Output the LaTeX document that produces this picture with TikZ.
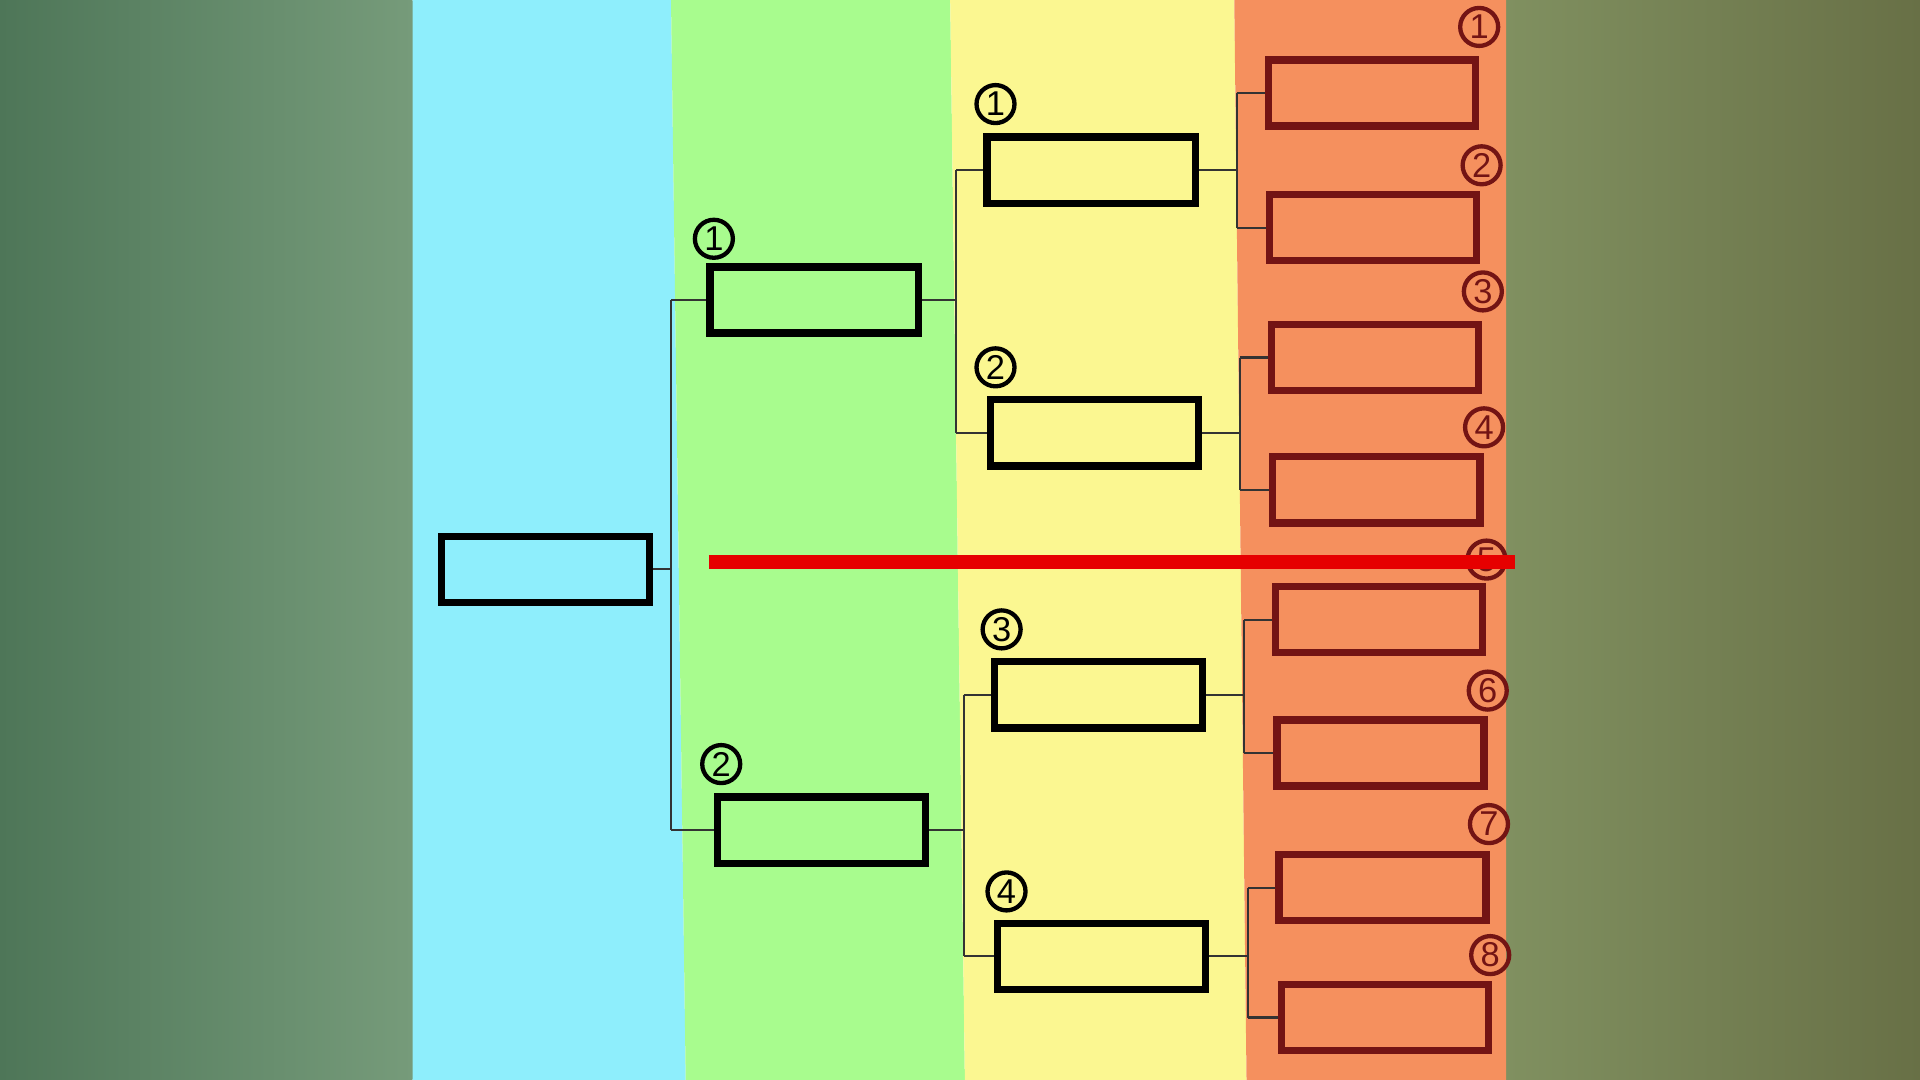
\documentclass[tikz,border=0pt]{standalone}
\usepackage{fontspec}
\setmainfont{Liberation Sans}
\definecolor{bgl1}{RGB}{78,118,88}
\definecolor{bgl2}{RGB}{118,155,122}
\definecolor{bgr1}{RGB}{128,144,96}
\definecolor{bgr2}{RGB}{104,112,70}
\definecolor{cblue}{RGB}{142,238,252}
\definecolor{cgreen}{RGB}{168,252,142}
\definecolor{cyellow}{RGB}{251,247,145}
\definecolor{corange}{RGB}{245,144,94}
\definecolor{dred}{RGB}{115,20,20}
\definecolor{lred}{RGB}{230,0,0}
\begin{document}
\begin{tikzpicture}[x=0.01cm,y=-0.01cm,
  box/.style={draw=black,line width=1.7pt},
  obox/.style={draw=dred,line width=1.7pt},
  con/.style={draw=black!80,line width=0.5pt},
  num/.style={circle,draw=black,line width=1pt,inner sep=0.4pt,minimum size=0.31cm,font=\footnotesize},
  onum/.style={num,draw=dred,text=dred}]
\useasboundingbox (0,0) rectangle (1568,882);
\shade[left color=bgl1,right color=bgl2] (0,0) rectangle (337,882);
\shade[left color=bgr1,right color=bgr2] (1230,0) rectangle (1568,882);
\fill[cblue] (337,0) -- (548,0) -- (560,882) -- (337,882) -- cycle;
\fill[cgreen] (548,0) -- (776,0) -- (788,882) -- (560,882) -- cycle;
\fill[cyellow] (776,0) -- (1008,0) -- (1018,882) -- (788,882) -- cycle;
\fill[corange] (1008,0) -- (1230,0) -- (1230,882) -- (1018,882) -- cycle;
% boxes
\node[box,minimum width=1.7cm,minimum height=0.54cm,inner sep=0] (a) at (445.5,465) {};
\foreach \n/\x/\y in {b1/665/245,b2/671/678}
  \node[box,minimum width=1.7cm,minimum height=0.54cm,inner sep=0] (\n) at (\x,\y) {};
\foreach \n/\x/\y in {c1/891/139,c2/894/353.5,c3/897/567.5,c4/899.5/781}
  \node[box,minimum width=1.7cm,minimum height=0.54cm,inner sep=0] (\n) at (\x,\y) {};
\foreach \n/\x/\y in {d1/1120.5/76,d2/1121.5/186,d3/1123/292,d4/1124/400,d5/1126/506,d6/1127.5/615,d7/1129/725,d8/1131/831}
  \node[obox,minimum width=1.69cm,minimum height=0.54cm,inner sep=0] (\n) at (\x,\y) {};
% connectors
\coordinate (ja) at (548,465);
\draw[con] (a.east) -- (ja) (ja|-b1.west) -- (ja|-b2.west);
\draw[con] (ja|-b1.west) -- (b1.west) (ja|-b2.west) -- (b2.west);
\foreach \p/\q/\r/\xx in {b1/c1/c2/781,b2/c3/c4/787,c1/d1/d2/1010,c2/d3/d4/1013,c3/d5/d6/1016,c4/d7/d8/1019}{
  \draw[con] (\p.east) -- (\xx,0 |- \p.east);
  \draw[con] (\xx,0 |- \q.west) -- (\xx,0 |- \r.west);
  \draw[con] (\xx,0 |- \q.west) -- (\q.west) (\xx,0 |- \r.west) -- (\r.west);
}
% numbers
\node[num] (n1) at (583,195) {1};
\node[num] (n2) at (589,624) {2};
\node[num] (m1) at (813,85) {1};
\node[num] (m2) at (813,300) {2};
\node[num] (m3) at (818,514) {3};
\node[num] (m4) at (822,728) {4};
\foreach \i/\x/\y in {1/1208/22,2/1210/135,3/1211/238,4/1212/349,5/1214/457,6/1215/564,7/1216/673,8/1217/780}
  \node[onum] (o\i) at (\x,\y) {\i};
% red line
\coordinate (r1) at (579,459);
\coordinate (r2) at (1237,459);
\draw[line width=3.4pt,draw=lred] (r1) -- (r2);
\end{tikzpicture}
\end{document}
